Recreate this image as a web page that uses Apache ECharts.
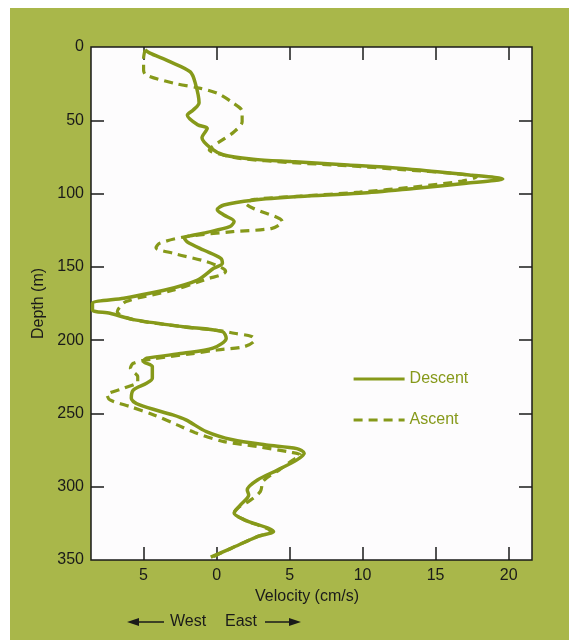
<!DOCTYPE html>
<html>
<head>
<meta charset="utf-8">
<title>Velocity profile</title>
<script src="https://cdn.jsdelivr.net/npm/echarts@6/dist/echarts.min.js"></script>
<style>
	html, body {margin: 0; padding: 0; background: #fff;}
	#main {width: 569px; height: 640px;}
</style>
</head>
<body>
<div id="main"></div>
<script>
// velocity (cm/s, west negative) , depth (m)
var descent = [
	[-4.9, 2], [-4.6, 4], [-3.2, 10], [-1.8, 17], [-1.45, 25], [-1.2, 38], [-1.6, 43], [-2.0, 46.5],
	[-1.3, 53], [-0.64, 55.5], [-1.0, 62], [-0.4, 69], [0.5, 73.7], [2.5, 76.5], [5.1, 78.2],
	[9, 80.5], [12.5, 82.7], [17.3, 87.3], [19.6, 90], [17.1, 93], [13.5, 96.5], [9.8, 99.8],
	[5.7, 102], [2.5, 104.5], [0.5, 107.8], [0.05, 111], [0.5, 114.6], [1.2, 119], [0.9, 122.6],
	[-0.9, 127], [-2.2, 130.5], [-2.0, 133], [-0.9, 138.5], [0.27, 144], [0.4, 147.6], [-0.2, 151],
	[-1.3, 159], [-3.6, 166], [-6.35, 171.4], [-8.5, 175], [-8.5, 179.4], [-7.3, 181.7], [-5.7, 186],
	[-2.3, 190.8], [0.4, 194.2], [0.66, 198.7], [-0.25, 205.5], [-2.3, 209], [-4.8, 212.4], [-5.0, 214.6],
	[-4.4, 218], [-4.4, 226], [-4.8, 229.4], [-5.7, 234], [-5.84, 239.6], [-5.27, 244.2], [-3.0, 251],
	[-2.1, 254.4], [-0.7, 262.4], [1.1, 268], [3.4, 271.5], [5.5, 274], [6.0, 277.2], [5.5, 281.7],
	[4.2, 288.5], [2.8, 295.4], [2.1, 302.2], [2.2, 305.6], [1.64, 312.4], [1.2, 318], [1.9, 322.6],
	[3.9, 330.6], [2.8, 334], [1.0, 342], [-0.4, 348]
];
var ascent = [
	[-4.9, 2], [-5.0, 8], [-5.0, 15.7], [-4.85, 19], [-2.9, 24.8], [-1.1, 28.2], [0.05, 31.6], [1.0, 37.3],
	[1.75, 44], [1.75, 51], [1.2, 57.8], [0.4, 63.4], [-0.3, 68], [-0.5, 70.3], [0.2, 73], [1.6, 76],
	[5, 78.8], [9, 81], [12.5, 83.5], [16.5, 86.5], [17.8, 88.5], [16.8, 91.5], [13.5, 95.5], [9.8, 99],
	[5.7, 101.8], [2.6, 104], [2.0, 106.6], [2.5, 110], [4.5, 119.2], [3.8, 123.7], [1.1, 126], [-2.1, 129.4],
	[-3.9, 133.9], [-4.15, 137], [-3.0, 140.7], [-0.7, 146.4], [0.43, 151], [0.62, 153.2], [0.3, 155.5],
	[-0.5, 157.8], [-1.0, 159.5], [-3.0, 166], [-6.2, 173.7], [-6.8, 180.6], [-5.7, 186], [-2.3, 190.8],
	[0.4, 193.8], [1.2, 195.3], [2.4, 197.5], [2.6, 200], [1.9, 204.4], [0.05, 206.7], [-1.8, 209.4],
	[-4.5, 213], [-5.7, 215.8], [-5.9, 219.2], [-5.4, 224.9], [-5.4, 228.3], [-6.35, 232.8], [-7.5, 237.4],
	[-7.3, 240.8], [-5.9, 245.4], [-4.3, 251], [-2.7, 257.8], [-1.5, 263], [0.5, 269.2], [2.8, 272.6],
	[5.07, 276.5], [5.75, 278.3], [5.2, 282], [4.3, 288.5], [3.2, 296], [3.0, 303.3], [2.2, 310], [1.5, 314],
	[1.2, 318], [1.9, 322.6], [3.7, 330.6], [2.8, 334], [1.0, 342], [-0.2, 347.6]
];
var velTicks = [-5, 0, 5, 10, 15, 20];
var depthTicks = [50, 100, 150, 200, 250, 300];

var olive = '#86991a', ink = '#1a1a1a', font = 'Liberation Sans, Arial, sans-serif';

// tick marks drawn inside the frame, shared by all four axes
function innerTicks(vals){
	return {inside: true, length: 13, customValues: vals, lineStyle: {color: ink, width: 1.5}};
}

var chart = echarts.init(document.getElementById('main'));
chart.setOption({
	backgroundColor: '#fff',
	animation: false,
	textStyle: {fontFamily: font},
	graphic: [
		{type: 'rect', z: -10, shape: {x: 10, y: 8, width: 569, height: 640}, style: {fill: '#a9b74a'}},
		{type: 'text', left: 255, top: 589, style: {text: 'Velocity (cm/s)', font: '16px ' + font, fill: ink}},
		{type: 'text', left: 170, top: 614, style: {text: 'West', font: '16px ' + font, fill: ink}},
		{type: 'text', left: 225, top: 614, style: {text: 'East', font: '16px ' + font, fill: ink}},
		{type: 'line', shape: {x1: 136, y1: 622, x2: 164, y2: 622}, style: {stroke: ink, lineWidth: 1.5}},
		{type: 'polygon', shape: {points: [[127, 622], [139, 618], [139, 626]]}, style: {fill: ink}},
		{type: 'line', shape: {x1: 265, y1: 622, x2: 291, y2: 622}, style: {stroke: ink, lineWidth: 1.5}},
		{type: 'polygon', shape: {points: [[301, 622], [289, 618], [289, 626]]}, style: {fill: ink}}
	],
	grid: {
		left: 91, top: 47, width: 441, height: 513,
		show: true, backgroundColor: '#fdfcfd', borderColor: ink, borderWidth: 1.5
	},
	legend: {
		left: 352, top: 371, orient: 'vertical', padding: 0,
		itemWidth: 51, itemHeight: 14, itemGap: 25,
		itemStyle: {opacity: 0},
		lineStyle: {width: 3.2},
		textStyle: {color: olive, fontSize: 16, fontFamily: font},
		data: ['Descent', 'Ascent']
	},
	xAxis: [{
		type: 'value', position: 'bottom', min: -8.6, max: 21.6,
		axisLine: {show: false, onZero: false},
		splitLine: {show: false},
		axisTick: innerTicks(velTicks),
		axisLabel: {
			customValues: velTicks, margin: 8, color: ink, fontSize: 16,
			formatter: function(v){ return Math.abs(v); }
		}
	}, {
		type: 'value', position: 'top', min: -8.6, max: 21.6,
		axisLine: {show: false, onZero: false},
		splitLine: {show: false},
		axisTick: innerTicks(velTicks),
		axisLabel: {show: false}
	}],
	yAxis: [{
		type: 'value', inverse: true, min: 0, max: 350, interval: 50, position: 'left',
		name: 'Depth (m)', nameLocation: 'middle', nameGap: 42,
		nameTextStyle: {color: ink, fontSize: 16, fontFamily: font},
		axisLine: {show: false, onZero: false},
		splitLine: {show: false},
		axisTick: innerTicks(depthTicks),
		axisLabel: {margin: 7, color: ink, fontSize: 16}
	}, {
		type: 'value', inverse: true, min: 0, max: 350, interval: 50, position: 'right',
		axisLine: {show: false, onZero: false},
		splitLine: {show: false},
		axisTick: innerTicks(depthTicks),
		axisLabel: {show: false}
	}],
	series: [{
		name: 'Descent', type: 'line', data: descent,
		smooth: 0.3, symbol: 'none',
		lineStyle: {color: olive, width: 3.5},
		itemStyle: {color: olive}
	}, {
		name: 'Ascent', type: 'line', data: ascent,
		smooth: 0.3, symbol: 'none',
		lineStyle: {color: olive, width: 3.2, type: [9, 6]},
		itemStyle: {color: olive}
	}]
});
</script>
</body>
</html>
